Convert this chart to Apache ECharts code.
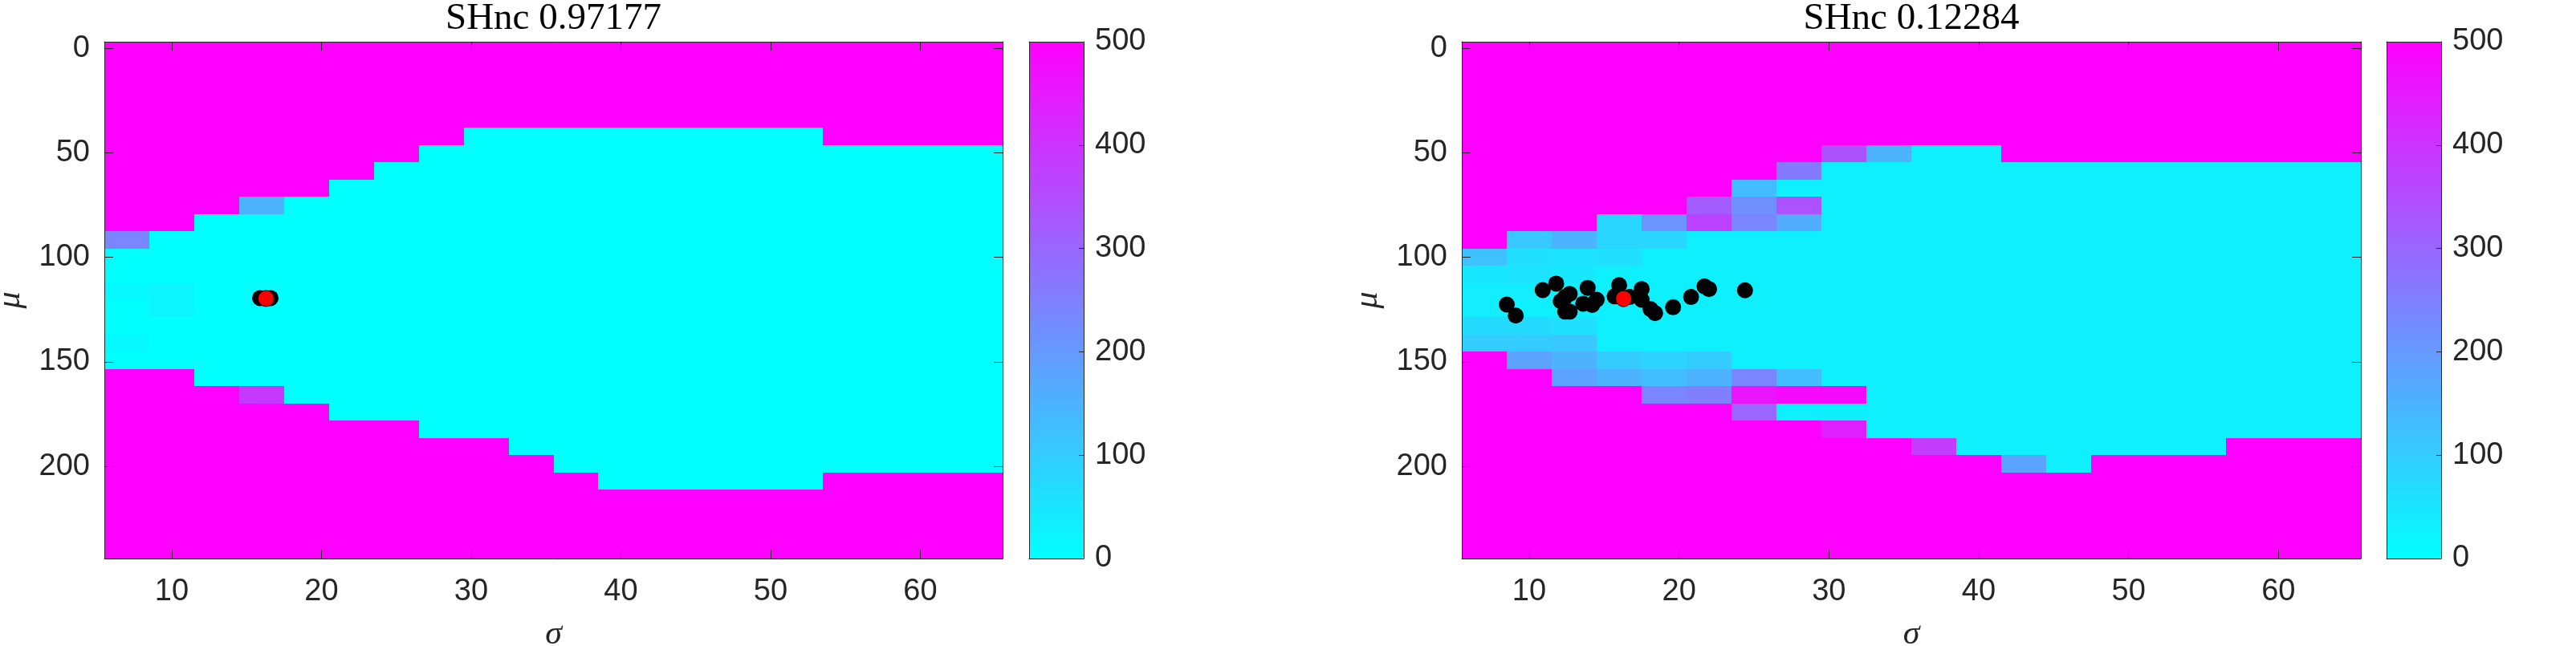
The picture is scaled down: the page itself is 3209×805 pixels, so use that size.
<!DOCTYPE html>
<html>
<head>
<meta charset="utf-8">
<script src="https://cdn.jsdelivr.net/npm/echarts@6/dist/echarts.min.js"></script>
<style>
  html, body { margin: 0; padding: 0; background: #fff; }
  #chart { width: 3209px; height: 805px; }
</style>
</head>
<body>
<div id="chart"></div>
<script>
// grid centres of the two heat maps
const sigma = [7, 10, 13, 16, 19, 22, 25, 28, 31, 34, 37, 40, 43, 46, 49, 52, 55, 58, 61, 64];
const mu = [1, 9.24, 17.48, 25.72, 33.97, 42.21, 50.45, 58.69, 66.93, 75.17, 83.41, 91.66, 99.9, 108.14,
  116.38, 124.62, 132.86, 141.1, 149.34, 157.59, 165.83, 174.07, 182.31, 190.55, 198.79, 207.03,
  215.28, 223.52, 231.76, 240];

const sigmaTicks = [10, 20, 30, 40, 50, 60];
const muTicks = [0, 50, 100, 150, 200];
const titles = ["SHnc 0.97177", "SHnc 0.12284"];

// left panel, one row per mu, one column per sigma
const valuesA = [
  [500,500,500,500,500,500,500,500,500,500,500,500,500,500,500,500,500,500,500,500],
  [500,500,500,500,500,500,500,500,500,500,500,500,500,500,500,500,500,500,500,500],
  [500,500,500,500,500,500,500,500,500,500,500,500,500,500,500,500,500,500,500,500],
  [500,500,500,500,500,500,500,500,500,500,500,500,500,500,500,500,500,500,500,500],
  [500,500,500,500,500,500,500,500,500,500,500,500,500,500,500,500,500,500,500,500],
  [500,500,500,500,500,500,500,500,0,0,0,0,0,0,0,0,500,500,500,500],
  [500,500,500,500,500,500,500,0,0,0,0,0,0,0,0,0,0,0,0,0],
  [500,500,500,500,500,500,0,0,0,0,0,0,0,0,0,0,0,0,0,0],
  [500,500,500,500,500,0,0,0,0,0,0,0,0,0,0,0,0,0,0,0],
  [500,500,500,150,0,0,0,0,0,0,0,0,0,0,0,0,0,0,0,0],
  [500,500,0,0,0,0,0,0,0,0,0,0,0,0,0,0,0,0,0,0],
  [240,0,0,0,0,0,0,0,0,0,0,0,0,0,0,0,0,0,0,0],
  [0,0,0,0,0,0,0,0,0,0,0,0,0,0,0,0,0,0,0,0],
  [0,0,0,0,0,0,0,0,0,0,0,0,0,0,0,0,0,0,0,0],
  [10,20,0,0,0,0,0,0,0,0,0,0,0,0,0,0,0,0,0,0],
  [0,20,0,0,0,0,0,0,0,0,0,0,0,0,0,0,0,0,0,0],
  [0,0,0,0,0,0,0,0,0,0,0,0,0,0,0,0,0,0,0,0],
  [10,0,0,0,0,0,0,0,0,0,0,0,0,0,0,0,0,0,0,0],
  [0,0,0,0,0,0,0,0,0,0,0,0,0,0,0,0,0,0,0,0],
  [500,500,0,0,0,0,0,0,0,0,0,0,0,0,0,0,0,0,0,0],
  [500,500,500,390,0,0,0,0,0,0,0,0,0,0,0,0,0,0,0,0],
  [500,500,500,500,500,0,0,0,0,0,0,0,0,0,0,0,0,0,0,0],
  [500,500,500,500,500,500,500,0,0,0,0,0,0,0,0,0,0,0,0,0],
  [500,500,500,500,500,500,500,500,500,0,0,0,0,0,0,0,0,0,0,0],
  [500,500,500,500,500,500,500,500,500,500,0,0,0,0,0,0,0,0,0,0],
  [500,500,500,500,500,500,500,500,500,500,500,0,0,0,0,0,500,500,500,500],
  [500,500,500,500,500,500,500,500,500,500,500,500,500,500,500,500,500,500,500,500],
  [500,500,500,500,500,500,500,500,500,500,500,500,500,500,500,500,500,500,500,500],
  [500,500,500,500,500,500,500,500,500,500,500,500,500,500,500,500,500,500,500,500],
  [500,500,500,500,500,500,500,500,500,500,500,500,500,500,500,500,500,500,500,500]
];

// right panel
const valuesB = [
  [500,500,500,500,500,500,500,500,500,500,500,500,500,500,500,500,500,500,500,500],
  [500,500,500,500,500,500,500,500,500,500,500,500,500,500,500,500,500,500,500,500],
  [500,500,500,500,500,500,500,500,500,500,500,500,500,500,500,500,500,500,500,500],
  [500,500,500,500,500,500,500,500,500,500,500,500,500,500,500,500,500,500,500,500],
  [500,500,500,500,500,500,500,500,500,500,500,500,500,500,500,500,500,500,500,500],
  [500,500,500,500,500,500,500,500,500,500,500,500,500,500,500,500,500,500,500,500],
  [500,500,500,500,500,500,500,500,340,150,30,30,500,500,500,500,500,500,500,500],
  [500,500,500,500,500,500,500,260,30,30,30,30,30,30,30,30,30,30,30,30],
  [500,500,500,500,500,500,130,30,30,30,30,30,30,30,30,30,30,30,30,30],
  [500,500,500,500,500,320,220,340,30,30,30,30,30,30,30,30,30,30,30,30],
  [500,500,500,80,210,370,240,160,30,30,30,30,30,30,30,30,30,30,30,30],
  [500,110,150,80,80,30,30,30,30,30,30,30,30,30,30,30,30,30,30,30],
  [120,60,55,60,30,30,30,30,30,30,30,30,30,30,30,30,30,30,30,30],
  [45,55,45,30,30,30,30,30,30,30,30,30,30,30,30,30,30,30,30,30],
  [35,35,30,30,30,30,30,30,30,30,30,30,30,30,30,30,30,30,30,30],
  [35,30,30,30,30,30,30,30,30,30,30,30,30,30,30,30,30,30,30,30],
  [70,70,60,30,30,30,30,30,30,30,30,30,30,30,30,30,30,30,30,30],
  [100,100,110,30,30,30,30,30,30,30,30,30,30,30,30,30,30,30,30,30],
  [500,180,150,100,85,100,30,30,30,30,30,30,30,30,30,30,30,30,30,30],
  [500,500,180,150,130,150,240,130,30,30,30,30,30,30,30,30,30,30,30,30],
  [500,500,500,500,240,250,460,480,480,30,30,30,30,30,30,30,30,30,30,30],
  [500,500,500,500,500,500,300,30,30,30,30,30,30,30,30,30,30,30,30,30],
  [500,500,500,500,500,500,500,500,440,30,30,30,30,30,30,30,30,30,30,30],
  [500,500,500,500,500,500,500,500,500,500,380,30,30,30,30,30,30,500,500,500],
  [500,500,500,500,500,500,500,500,500,500,500,500,180,30,500,500,500,500,500,500],
  [500,500,500,500,500,500,500,500,500,500,500,500,500,500,500,500,500,500,500,500],
  [500,500,500,500,500,500,500,500,500,500,500,500,500,500,500,500,500,500,500,500],
  [500,500,500,500,500,500,500,500,500,500,500,500,500,500,500,500,500,500,500,500],
  [500,500,500,500,500,500,500,500,500,500,500,500,500,500,500,500,500,500,500,500],
  [500,500,500,500,500,500,500,500,500,500,500,500,500,500,500,500,500,500,500,500]
];

// scatter points [sigma, mu]
const samplesA = [[15.9, 119.5], [16.6, 119.5]];
const bestA = [[16.3, 119.7]];
const samplesB = [
  [8.5, 122.6], [9.1, 127.9], [10.9, 115.7], [11.8, 112.6], [12.4, 119.0], [12.7, 117.5],
  [12.4, 126.0], [12.7, 126.0], [12.1, 121.0], [13.9, 114.6], [13.6, 122.2], [14.2, 122.8],
  [14.5, 120.3], [16.0, 113.3], [15.7, 118.7], [16.7, 119.0], [17.5, 115.2], [17.5, 120.3],
  [18.1, 124.8], [18.4, 126.7], [19.6, 123.9], [20.8, 119.0], [21.7, 113.9], [22.0, 115.2],
  [24.4, 115.8]
];
const bestB = [[16.3, 119.8]];

const sigmaStep = sigma[1] - sigma[0];
const muStep = mu[1] - mu[0];
const axisColor = "#262626";
const sans = "Liberation Sans, Arial, sans-serif";
const serif = "Liberation Serif, Times New Roman, serif";

function cellData(matrix) {
  const out = [];
  matrix.forEach((row, i) => row.forEach((v, j) => out.push([sigma[j], mu[i], v])));
  return out;
}

function renderCell(params, api) {
  const s = api.value(0);
  const m = api.value(1);
  const a = api.coord([s - sigmaStep / 2, m - muStep / 2]);
  const b = api.coord([s + sigmaStep / 2, m + muStep / 2]);
  const x0 = Math.round(Math.min(a[0], b[0]));
  const x1 = Math.round(Math.max(a[0], b[0]));
  const y0 = Math.round(Math.min(a[1], b[1]));
  const y1 = Math.round(Math.max(a[1], b[1]));
  return {
    type: "rect",
    shape: { x: x0, y: y0, width: x1 - x0, height: y1 - y0 },
    style: { fill: api.visual("color") },
  };
}

const panels = [
  { left: 130, width: 1119, cbarLeft: 1282 },
  { left: 1821, width: 1120, cbarLeft: 2973 },
];
const gridTop = 52;
const gridHeight = 644;

const grid = [];
const xAxis = [];
const yAxis = [];
const title = [];
const visualMap = [];
const series = [];

const labelStyle = { color: axisColor, fontSize: 38, fontFamily: sans };
const lineStyle = { color: axisColor, width: 1 };

panels.forEach((p, k) => {
  const g = k * 2;
  grid.push({ left: p.left, top: gridTop, width: p.width, height: gridHeight, outerBoundsMode: "none" });
  grid.push({ left: p.cbarLeft, top: gridTop, width: 68, height: gridHeight, outerBoundsMode: "none" });

  title.push({
    text: titles[k],
    left: p.left + p.width / 2,
    textAlign: "center",
    top: 0,
    padding: 0,
    textStyle: { fontFamily: serif, fontSize: 47, fontWeight: "normal", color: "#000" },
  });

  const tick = (vals, len) => ({
    show: true, inside: true, length: len, customValues: vals, lineStyle: lineStyle,
  });

  // main axes, boxed like matlab
  xAxis.push({
    type: "value", gridIndex: g, position: "bottom", min: 5.5, max: 65.5, z: 10,
    axisLine: { show: true, onZero: false, lineStyle: lineStyle },
    axisTick: tick(sigmaTicks, 11),
    axisLabel: { ...labelStyle, customValues: sigmaTicks, margin: 23 },
    splitLine: { show: false },
    name: "σ", nameLocation: "middle", nameGap: 74,
    nameTextStyle: { fontFamily: serif, fontStyle: "italic", fontSize: 42, color: axisColor },
  });
  xAxis.push({
    type: "value", gridIndex: g, position: "top", min: 5.5, max: 65.5, z: 10,
    axisLine: { show: true, onZero: false, lineStyle: lineStyle },
    axisTick: tick(sigmaTicks, 11),
    axisLabel: { show: false }, splitLine: { show: false },
  });
  yAxis.push({
    type: "value", gridIndex: g, position: "left", inverse: true, min: -3.12, max: 244.12, z: 10,
    axisLine: { show: true, onZero: false, lineStyle: lineStyle },
    axisTick: tick(muTicks, 11),
    axisLabel: { ...labelStyle, customValues: muTicks, margin: 18 },
    splitLine: { show: false },
    name: "μ", nameLocation: "middle", nameGap: 96, nameRotate: 90,
    nameTextStyle: { fontFamily: serif, fontStyle: "italic", fontSize: 42, color: axisColor },
  });
  yAxis.push({
    type: "value", gridIndex: g, position: "right", inverse: true, min: -3.12, max: 244.12, z: 10,
    axisLine: { show: true, onZero: false, lineStyle: lineStyle },
    axisTick: tick(muTicks, 11),
    axisLabel: { show: false }, splitLine: { show: false },
  });

  // colour bar frame and scale
  xAxis.push({
    type: "value", gridIndex: g + 1, position: "bottom", min: 0, max: 1, z: 10,
    axisLine: { show: true, onZero: false, lineStyle: lineStyle },
    axisTick: { show: false }, axisLabel: { show: false }, splitLine: { show: false },
  });
  xAxis.push({
    type: "value", gridIndex: g + 1, position: "top", min: 0, max: 1, z: 10,
    axisLine: { show: true, onZero: false, lineStyle: lineStyle },
    axisTick: { show: false }, axisLabel: { show: false }, splitLine: { show: false },
  });
  yAxis.push({
    type: "value", gridIndex: g + 1, position: "left", min: 0, max: 500, z: 10,
    axisLine: { show: true, onZero: false, lineStyle: lineStyle },
    axisTick: { show: false }, axisLabel: { show: false }, splitLine: { show: false },
  });
  yAxis.push({
    type: "value", gridIndex: g + 1, position: "right", min: 0, max: 500, interval: 100, z: 10,
    axisLine: { show: true, onZero: false, lineStyle: lineStyle },
    axisTick: { show: true, inside: true, length: 6, lineStyle: lineStyle },
    axisLabel: { ...labelStyle, margin: 14 },
    splitLine: { show: false },
  });

  visualMap.push({
    type: "continuous", seriesIndex: series.length, dimension: 2, min: 0, max: 500,
    inRange: { color: ["#00ffff", "#ff00ff"] },
    calculable: false, hoverLink: false, orient: "vertical",
    left: p.cbarLeft, top: gridTop, itemWidth: 68, itemHeight: gridHeight, padding: 0,
  });

  const ax = k * 4;
  series.push({
    type: "custom", xAxisIndex: ax, yAxisIndex: ax, clip: true,
    renderItem: renderCell, encode: { x: 0, y: 1 },
    data: cellData(k === 0 ? valuesA : valuesB), silent: true,
  });
  series.push({
    type: "scatter", xAxisIndex: ax, yAxisIndex: ax, symbolSize: 20, z: 5,
    itemStyle: { color: "#000", opacity: 1 }, data: k === 0 ? samplesA : samplesB, silent: true,
  });
  series.push({
    type: "scatter", xAxisIndex: ax, yAxisIndex: ax, symbolSize: 20, z: 6,
    itemStyle: { color: "#ff0000", borderColor: "#000", borderWidth: 1, opacity: 1 },
    data: k === 0 ? bestA : bestB, silent: true,
  });
});

const chart = echarts.init(document.getElementById("chart"));
chart.setOption({
  animation: false,
  backgroundColor: "#fff",
  title: title,
  grid: grid,
  xAxis: xAxis,
  yAxis: yAxis,
  visualMap: visualMap,
  series: series,
});
</script>
</body>
</html>
